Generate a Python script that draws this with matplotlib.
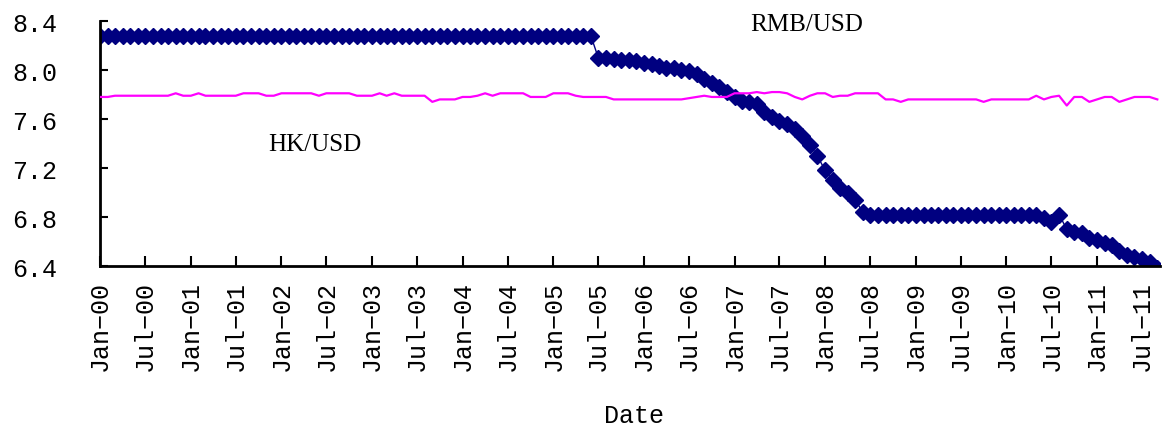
import matplotlib
matplotlib.use("Agg")
import matplotlib.pyplot as plt
import matplotlib.dates as mdates
import pandas as pd

# monthly observations, Jan 2000 .. Sep 2011
dates = pd.date_range("2000-01-01", "2011-09-01", freq="MS")

rmb_usd = (
    [8.28] * 60                                                         # 2000-2004
    + [8.28] * 6 + [8.10, 8.10, 8.09, 8.08, 8.08, 8.07]                 # 2005
    + [8.06, 8.05, 8.03, 8.02, 8.02, 8.00, 7.99, 7.97, 7.93, 7.89, 7.86, 7.82]  # 2006
    + [7.78, 7.75, 7.74, 7.72, 7.66, 7.62, 7.58, 7.56, 7.52, 7.46, 7.39, 7.30]  # 2007
    + [7.18, 7.10, 7.04, 7.00, 6.94, 6.84, 6.82, 6.82, 6.82, 6.82, 6.82, 6.82]  # 2008
    + [6.82] * 12                                                       # 2009
    + [6.82, 6.82, 6.82, 6.82, 6.82, 6.79, 6.76, 6.82, 6.70, 6.68, 6.67, 6.63]  # 2010
    + [6.61, 6.59, 6.57, 6.52, 6.49, 6.47, 6.46, 6.43, 6.38]            # 2011
)

hk_usd = (
    [7.78, 7.78, 7.79, 7.79, 7.79, 7.79, 7.79, 7.79, 7.79, 7.79, 7.81, 7.79]    # 2000
    + [7.79, 7.81, 7.79, 7.79, 7.79, 7.79, 7.79, 7.81, 7.81, 7.81, 7.79, 7.79]  # 2001
    + [7.81, 7.81, 7.81, 7.81, 7.81, 7.79, 7.81, 7.81, 7.81, 7.81, 7.79, 7.79]  # 2002
    + [7.79, 7.81, 7.79, 7.81, 7.79, 7.79, 7.79, 7.79, 7.74, 7.76, 7.76, 7.76]  # 2003
    + [7.78, 7.78, 7.79, 7.81, 7.79, 7.81, 7.81, 7.81, 7.81, 7.78, 7.78, 7.78]  # 2004
    + [7.81, 7.81, 7.81, 7.79, 7.78, 7.78, 7.78, 7.78, 7.76, 7.76, 7.76, 7.76]  # 2005
    + [7.76, 7.76, 7.76, 7.76, 7.76, 7.76, 7.77, 7.78, 7.79, 7.78, 7.78, 7.78]  # 2006
    + [7.81, 7.81, 7.81, 7.82, 7.81, 7.82, 7.82, 7.81, 7.78, 7.76, 7.79, 7.81]  # 2007
    + [7.81, 7.78, 7.79, 7.79, 7.81, 7.81, 7.81, 7.81, 7.76, 7.76, 7.74, 7.76]  # 2008
    + [7.76, 7.76, 7.76, 7.76, 7.76, 7.76, 7.76, 7.76, 7.76, 7.74, 7.76, 7.76]  # 2009
    + [7.76, 7.76, 7.76, 7.76, 7.79, 7.76, 7.78, 7.79, 7.71, 7.78, 7.78, 7.74]  # 2010
    + [7.76, 7.78, 7.78, 7.74, 7.76, 7.78, 7.78, 7.78, 7.76]                    # 2011
)

y_ticks = [6.4, 6.8, 7.2, 7.6, 8.0, 8.4]

plt.rcParams["font.family"] = ["Liberation Mono", "DejaVu Sans Mono"]

fig = plt.figure(figsize=(11.66, 4.35), dpi=100)
ax = fig.add_axes([0.0858, 0.3862, 0.9091, 0.5632])

ax.plot(dates, rmb_usd, color="#000080", lw=1, marker="D", ms=8,
        mec="#000080", mfc="#000080", zorder=2)
ax.plot(dates, hk_usd, color="#FF00FF", lw=1.6, zorder=3)

ax.set_xlim(pd.Timestamp("2000-01-01"), pd.Timestamp("2011-09-12"))
ax.set_ylim(6.4, 8.4)
ax.set_yticks(y_ticks)
ax.set_yticklabels([f"{v:.1f}" for v in y_ticks])

ax.xaxis.set_major_locator(mdates.MonthLocator(bymonth=[1, 7]))
ax.xaxis.set_major_formatter(mdates.DateFormatter("%b\u2212%y"))
plt.setp(ax.get_xticklabels(), rotation=90, ha="center", va="top")

for s in ("top", "right"):
    ax.spines[s].set_visible(False)
for s in ("left", "bottom"):
    ax.spines[s].set_linewidth(2)

ax.tick_params(axis="x", direction="in", length=7, width=1.5, labelsize=18, pad=10)
ax.tick_params(axis="y", direction="in", length=6, width=1.5, labelsize=18, pad=31)

ax.text(pd.Timestamp("2007-10-20"), 8.375, "RMB/USD", ha="center", va="center",
        fontsize=18, family="Liberation Serif")
ax.text(pd.Timestamp("2002-05-15"), 7.40, "HK/USD", ha="center", va="center",
        fontsize=18, family="Liberation Serif")

fig.text(634 / 1166, 1 - 416 / 435, "Date", ha="center", va="center", fontsize=18)

fig.savefig("out.png", dpi=100)
